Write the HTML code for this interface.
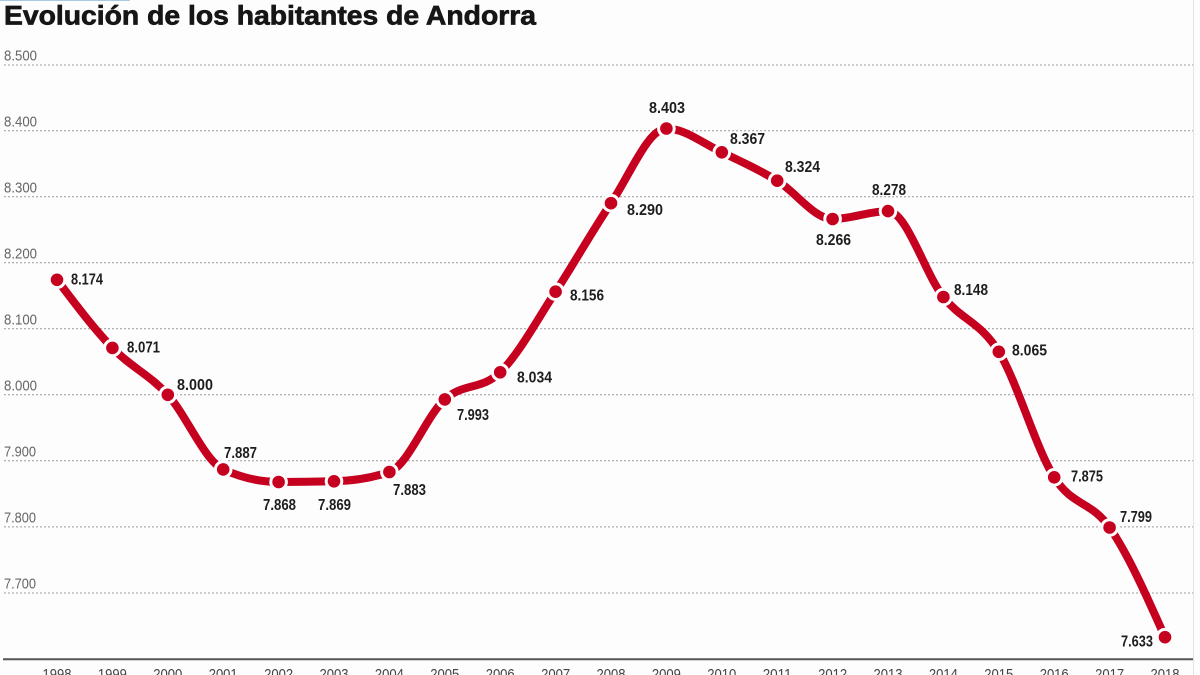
<!DOCTYPE html>
<html>
<head>
<meta charset="utf-8">
<style>
  html, body { margin:0; padding:0; background:#fdfdfd; }
  svg { display:block; }
  .ttl { font-family:"Liberation Sans", sans-serif; font-weight:bold; font-size:27px; fill:#161616; stroke:#161616; stroke-width:0.7; }
  .ylab { font-family:"Liberation Sans", sans-serif; font-size:15px; fill:#666; }
  .xlab { font-family:"Liberation Sans", sans-serif; font-size:15px; fill:#444; text-anchor:middle; }
  .dl { font-family:"Liberation Sans", sans-serif; font-weight:bold; font-size:16px; fill:#1e1e1e; }
  .grid { stroke:#9a9a9a; stroke-width:1; stroke-dasharray:2 2; }
</style>
</head>
<body>
<svg width="1200" height="675" viewBox="0 0 1200 675" xmlns="http://www.w3.org/2000/svg">
  <rect x="0" y="0" width="1200" height="675" fill="#fdfdfd"/>
  <line x1="0" y1="0.5" x2="130" y2="0.5" stroke="#a9c8ea" stroke-width="1"/>
  <line x1="1193.5" y1="0" x2="1193.5" y2="675" stroke="#e2e2e2" stroke-width="1"/>

  <text class="ttl" x="4" y="24.5" textLength="532" lengthAdjust="spacingAndGlyphs">Evolución de los habitantes de Andorra</text>

  <!-- gridlines -->
  <g>
    <line class="grid" x1="4" y1="65" x2="1193" y2="65"/>
    <line class="grid" x1="4" y1="130.8" x2="1193" y2="130.8"/>
    <line class="grid" x1="4" y1="196.8" x2="1193" y2="196.8"/>
    <line class="grid" x1="4" y1="262.8" x2="1193" y2="262.8"/>
    <line class="grid" x1="4" y1="328.8" x2="1193" y2="328.8"/>
    <line class="grid" x1="4" y1="394.8" x2="1193" y2="394.8"/>
    <line class="grid" x1="4" y1="460.8" x2="1193" y2="460.8"/>
    <line class="grid" x1="4" y1="526.9" x2="1193" y2="526.9"/>
    <line class="grid" x1="4" y1="593" x2="1193" y2="593"/>
  </g>
  <g>
    <text class="ylab" x="4" y="60.5" textLength="33" lengthAdjust="spacingAndGlyphs">8.500</text>
    <text class="ylab" x="4" y="126.3" textLength="33" lengthAdjust="spacingAndGlyphs">8.400</text>
    <text class="ylab" x="4" y="192.3" textLength="33" lengthAdjust="spacingAndGlyphs">8.300</text>
    <text class="ylab" x="4" y="258.3" textLength="33" lengthAdjust="spacingAndGlyphs">8.200</text>
    <text class="ylab" x="4" y="324.3" textLength="33" lengthAdjust="spacingAndGlyphs">8.100</text>
    <text class="ylab" x="4" y="390.3" textLength="33" lengthAdjust="spacingAndGlyphs">8.000</text>
    <text class="ylab" x="4" y="456.3" textLength="32" lengthAdjust="spacingAndGlyphs">7.900</text>
    <text class="ylab" x="4" y="522.4" textLength="32" lengthAdjust="spacingAndGlyphs">7.800</text>
    <text class="ylab" x="4" y="588.5" textLength="32" lengthAdjust="spacingAndGlyphs">7.700</text>
  </g>

  <!-- axis -->
  <line x1="3" y1="659.3" x2="1193" y2="659.3" stroke="#555" stroke-width="2"/>
  <g>
    <text class="xlab" x="57" y="679" textLength="29" lengthAdjust="spacingAndGlyphs">1998</text>
    <text class="xlab" x="112.4" y="679" textLength="29" lengthAdjust="spacingAndGlyphs">1999</text>
    <text class="xlab" x="167.8" y="679" textLength="29" lengthAdjust="spacingAndGlyphs">2000</text>
    <text class="xlab" x="223.2" y="679" textLength="29" lengthAdjust="spacingAndGlyphs">2001</text>
    <text class="xlab" x="278.6" y="679" textLength="29" lengthAdjust="spacingAndGlyphs">2002</text>
    <text class="xlab" x="334" y="679" textLength="29" lengthAdjust="spacingAndGlyphs">2003</text>
    <text class="xlab" x="389.4" y="679" textLength="29" lengthAdjust="spacingAndGlyphs">2004</text>
    <text class="xlab" x="444.8" y="679" textLength="29" lengthAdjust="spacingAndGlyphs">2005</text>
    <text class="xlab" x="500.2" y="679" textLength="29" lengthAdjust="spacingAndGlyphs">2006</text>
    <text class="xlab" x="555.6" y="679" textLength="29" lengthAdjust="spacingAndGlyphs">2007</text>
    <text class="xlab" x="611" y="679" textLength="29" lengthAdjust="spacingAndGlyphs">2008</text>
    <text class="xlab" x="666.4" y="679" textLength="29" lengthAdjust="spacingAndGlyphs">2009</text>
    <text class="xlab" x="721.8" y="679" textLength="29" lengthAdjust="spacingAndGlyphs">2010</text>
    <text class="xlab" x="777.2" y="679" textLength="29" lengthAdjust="spacingAndGlyphs">2011</text>
    <text class="xlab" x="832.6" y="679" textLength="29" lengthAdjust="spacingAndGlyphs">2012</text>
    <text class="xlab" x="888" y="679" textLength="29" lengthAdjust="spacingAndGlyphs">2013</text>
    <text class="xlab" x="943.4" y="679" textLength="29" lengthAdjust="spacingAndGlyphs">2014</text>
    <text class="xlab" x="998.8" y="679" textLength="29" lengthAdjust="spacingAndGlyphs">2015</text>
    <text class="xlab" x="1054.2" y="679" textLength="29" lengthAdjust="spacingAndGlyphs">2016</text>
    <text class="xlab" x="1109.6" y="679" textLength="29" lengthAdjust="spacingAndGlyphs">2017</text>
    <text class="xlab" x="1165" y="679" textLength="29" lengthAdjust="spacingAndGlyphs">2018</text>
  </g>

  <!-- line -->
  <path fill="none" stroke="#c6001f" stroke-width="8" stroke-linecap="round" stroke-linejoin="round"
    d="M57,279.8
       C75.47,304.27 93.93,328.73 112.4,347.9
       C130.87,367.07 149.33,374.55 167.8,394.8
       C186.27,415.05 204.73,461.0 223.2,469.4
       C241.67,477.8 260.13,482.0 278.6,482.0
       C297.07,482.0 315.53,481.77 334,481.3
       C352.47,480.83 370.93,478.2 389.4,472.0
       C407.87,465.8 426.33,416.02 444.8,399.4
       C463.27,382.78 481.73,390.25 500.2,372.3
       C518.67,354.35 537.13,319.88 555.6,291.7
       C574.07,263.52 592.53,230.4 611,203.2
       C629.47,176.0 647.93,128.5 666.4,128.5
       C684.87,128.5 703.33,143.6 721.8,152.3
       C740.27,161.0 758.73,169.58 777.2,180.7
       C795.67,191.82 814.13,219.0 832.6,219.0
       C851.07,219.0 869.53,211.1 888,211.1
       C906.47,211.1 924.93,273.55 943.4,297.0
       C961.87,320.45 980.33,321.75 998.8,351.8
       C1017.27,381.85 1035.73,448.02 1054.2,477.3
       C1072.67,506.58 1091.13,500.85 1109.6,527.5
       C1128.07,554.15 1146.53,595.67 1165,637.2"/>

  <!-- dots -->
  <g fill="#c6001f" stroke="#fdfdfd" stroke-width="3">
    <circle cx="57" cy="279.8" r="7.8"/>
    <circle cx="112.4" cy="347.9" r="7.8"/>
    <circle cx="167.8" cy="394.8" r="7.8"/>
    <circle cx="223.2" cy="469.4" r="7.8"/>
    <circle cx="278.6" cy="482.0" r="7.8"/>
    <circle cx="334" cy="481.3" r="7.8"/>
    <circle cx="389.4" cy="472.0" r="7.8"/>
    <circle cx="444.8" cy="399.4" r="7.8"/>
    <circle cx="500.2" cy="372.3" r="7.8"/>
    <circle cx="555.6" cy="291.7" r="7.8"/>
    <circle cx="611" cy="203.2" r="7.8"/>
    <circle cx="666.4" cy="128.5" r="7.8"/>
    <circle cx="721.8" cy="152.3" r="7.8"/>
    <circle cx="777.2" cy="180.7" r="7.8"/>
    <circle cx="832.6" cy="219.0" r="7.8"/>
    <circle cx="888" cy="211.1" r="7.8"/>
    <circle cx="943.4" cy="297.0" r="7.8"/>
    <circle cx="998.8" cy="351.8" r="7.8"/>
    <circle cx="1054.2" cy="477.3" r="7.8"/>
    <circle cx="1109.6" cy="527.5" r="7.8"/>
    <circle cx="1165" cy="637.2" r="7.8"/>
  </g>

  <!-- data labels -->
  <g>
    <text class="dl" x="71" y="284.5" textLength="32" lengthAdjust="spacingAndGlyphs">8.174</text>
    <text class="dl" x="127" y="352.5" textLength="33" lengthAdjust="spacingAndGlyphs">8.071</text>
    <text class="dl" x="177" y="390" textLength="36" lengthAdjust="spacingAndGlyphs">8.000</text>
    <text class="dl" x="224" y="458" textLength="33" lengthAdjust="spacingAndGlyphs">7.887</text>
    <text class="dl" x="263" y="510" textLength="33" lengthAdjust="spacingAndGlyphs">7.868</text>
    <text class="dl" x="318" y="510" textLength="33" lengthAdjust="spacingAndGlyphs">7.869</text>
    <text class="dl" x="393" y="495" textLength="33" lengthAdjust="spacingAndGlyphs">7.883</text>
    <text class="dl" x="457" y="420" textLength="32" lengthAdjust="spacingAndGlyphs">7.993</text>
    <text class="dl" x="517" y="382.5" textLength="35" lengthAdjust="spacingAndGlyphs">8.034</text>
    <text class="dl" x="570" y="300.5" textLength="34" lengthAdjust="spacingAndGlyphs">8.156</text>
    <text class="dl" x="627" y="215" textLength="36" lengthAdjust="spacingAndGlyphs">8.290</text>
    <text class="dl" x="649" y="113" textLength="36" lengthAdjust="spacingAndGlyphs">8.403</text>
    <text class="dl" x="730" y="144" textLength="35" lengthAdjust="spacingAndGlyphs">8.367</text>
    <text class="dl" x="785" y="172" textLength="35" lengthAdjust="spacingAndGlyphs">8.324</text>
    <text class="dl" x="816" y="245" textLength="35" lengthAdjust="spacingAndGlyphs">8.266</text>
    <text class="dl" x="872" y="195" textLength="34" lengthAdjust="spacingAndGlyphs">8.278</text>
    <text class="dl" x="954" y="295" textLength="34" lengthAdjust="spacingAndGlyphs">8.148</text>
    <text class="dl" x="1012" y="355.5" textLength="35" lengthAdjust="spacingAndGlyphs">8.065</text>
    <text class="dl" x="1071" y="481.5" textLength="32" lengthAdjust="spacingAndGlyphs">7.875</text>
    <text class="dl" x="1120" y="522" textLength="32" lengthAdjust="spacingAndGlyphs">7.799</text>
    <text class="dl" x="1121" y="646.5" textLength="32" lengthAdjust="spacingAndGlyphs">7.633</text>
  </g>
</svg>
</body>
</html>
